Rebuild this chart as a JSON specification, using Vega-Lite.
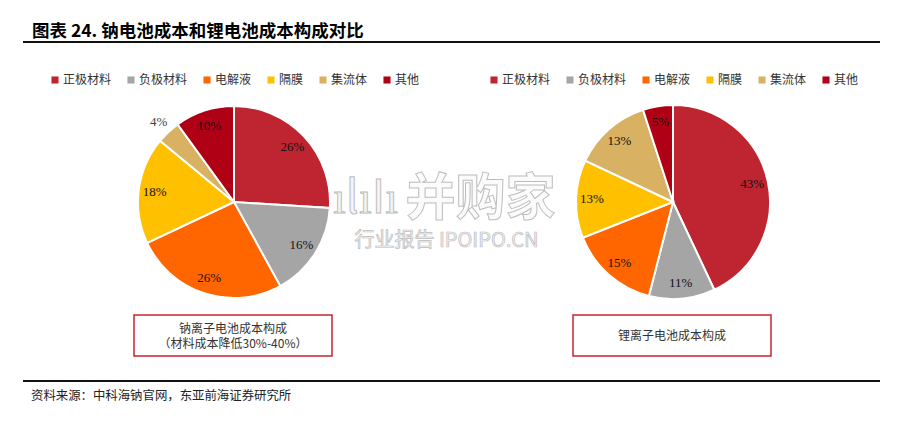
{"$schema":"https://vega.github.io/schema/vega-lite/v6.json","background":"#ffffff","padding":{"left":23,"top":22,"right":0,"bottom":0},"config":{"view":{"stroke":null},"font":"Noto Sans CJK SC"},"datasets":{"na":[{"part":"正极材料","value":0.26,"rank":1},{"part":"负极材料","value":0.16,"rank":2},{"part":"电解液","value":0.26,"rank":3},{"part":"隔膜","value":0.18,"rank":4},{"part":"集流体","value":0.04,"rank":5},{"part":"其他","value":0.10,"rank":6}],"li":[{"part":"正极材料","value":0.43,"rank":1},{"part":"负极材料","value":0.11,"rank":2},{"part":"电解液","value":0.15,"rank":3},{"part":"隔膜","value":0.13,"rank":4},{"part":"集流体","value":0.13,"rank":5},{"part":"其他","value":0.05,"rank":6}],"blank":[{"t":""}]},"spacing":18,"vconcat":[{"spacing":27,"vconcat":[{"width":857,"height":2,"view":{"fill":"#111111","stroke":null},"title":{"text":"图表 24. 钠电池成本和锂电池成本构成对比","anchor":"start","frame":"group","dx":9,"fontSize":17.5,"fontWeight":"bold","color":"#000000","offset":-4},"data":{"name":"blank"},"mark":"text","encoding":{"text":{"field":"t"}}},{"columns":4,"center":true,"bounds":"flush","spacing":{"row":3,"column":0},"concat":[{"width":111,"height":220,"data":{"name":"blank"},"mark":"text","encoding":{"text":{"field":"t"}}},{"width":200,"height":220,"data":{"name":"na"},"encoding":{"theta":{"field":"value","type":"quantitative","stack":true},"order":{"field":"rank","type":"ordinal"}},"layer":[{"mark":{"type":"arc","radius":96,"stroke":"#ffffff","strokeWidth":2},"encoding":{"color":{"field":"part","type":"nominal","scale":{"domain":["正极材料","负极材料","电解液","隔膜","集流体","其他"],"range":["#BE2530","#A5A5A5","#FF6600","#FFC000","#D9B163","#B00016"]},"legend":{"title":null,"orient":"none","legendX":-85,"legendY":-18,"direction":"horizontal","columns":6,"symbolType":"square","symbolSize":50,"symbolStrokeWidth":0,"labelFontSize":12,"labelColor":"#333333","columnPadding":13,"labelOffset":2}}}},{"mark":{"type":"text","radius":80,"font":"Liberation Serif","fontSize":13,"color":"#111111"},"encoding":{"text":{"condition":{"test":"datum.part === '集流体'","value":""},"field":"value","type":"quantitative","format":".0%"}}},{"mark":{"type":"text","radius":110,"font":"Liberation Serif","fontSize":13,"color":"#444444"},"encoding":{"text":{"condition":{"test":"datum.part !== '集流体'","value":""},"field":"value","type":"quantitative","format":".0%"}}}]},{"width":239,"height":220,"layer":[{"data":{"values":[{"t":"行业报告 IPOIPO.CN"}]},"mark":{"type":"text","dx":-7,"dy":39,"fontSize":20,"color":"#f2f2f2","stroke":"#bdbdbd","strokeWidth":0.7},"encoding":{"text":{"field":"t"}}},{"data":{"values":[{"t":"并购家"}]},"mark":{"type":"text","dx":27,"dy":-2,"fontSize":50,"fontWeight":"bold","color":"#fbfbfb","stroke":"#bdbdbd","strokeWidth":1},"encoding":{"text":{"field":"t"}}},{"data":{"values":[{"t":"ılıIı"}]},"mark":{"type":"text","dx":-88,"dy":-3,"fontSize":46,"color":"#f4f4f4","stroke":"#bdbdbd","strokeWidth":1},"encoding":{"text":{"field":"t"}}}]},{"width":200,"height":220,"data":{"name":"li"},"encoding":{"theta":{"field":"value","type":"quantitative","stack":true},"order":{"field":"rank","type":"ordinal"}},"layer":[{"mark":{"type":"arc","radius":97,"stroke":"#ffffff","strokeWidth":2},"encoding":{"color":{"field":"part","type":"nominal","scale":{"domain":["正极材料","负极材料","电解液","隔膜","集流体","其他"],"range":["#BE2530","#A5A5A5","#FF6600","#FFC000","#D9B163","#B00016"]},"legend":{"title":null,"orient":"none","legendX":-85,"legendY":-18,"direction":"horizontal","columns":6,"symbolType":"square","symbolSize":50,"symbolStrokeWidth":0,"labelFontSize":12,"labelColor":"#333333","columnPadding":13,"labelOffset":2}}}},{"mark":{"type":"text","radius":81,"font":"Liberation Serif","fontSize":13,"color":"#111111"},"encoding":{"text":{"field":"value","type":"quantitative","format":".0%"}}}]},{"width":111,"height":41,"data":{"name":"blank"},"mark":"text","encoding":{"text":{"field":"t"}}},{"width":198,"height":41,"view":{"stroke":"#c4242c","strokeWidth":1.5},"data":{"values":[{"t":"钠离子电池成本构成\n（材料成本降低30%-40%）"}]},"mark":{"type":"text","lineBreak":"\n","lineHeight":15,"dy":-7,"fontSize":12,"color":"#333333"},"encoding":{"text":{"field":"t"}}},{"width":239,"height":41,"data":{"name":"blank"},"mark":"text","encoding":{"text":{"field":"t"}}},{"width":198,"height":41,"view":{"stroke":"#c4242c","strokeWidth":1.5},"data":{"values":[{"t":"锂离子电池成本构成"}]},"mark":{"type":"text","fontSize":12,"color":"#333333"},"encoding":{"text":{"field":"t"}}}],"resolve":{"scale":{"color":"independent","theta":"independent"},"legend":{"color":"independent"}}}],"resolve":{"scale":{"color":"independent","theta":"independent"},"legend":{"color":"independent"}}},{"width":857,"height":2,"view":{"fill":"#111111","stroke":null},"title":{"text":"资料来源：中科海钠官网，东亚前海证券研究所","orient":"bottom","anchor":"start","frame":"group","dx":8,"fontSize":12.4,"fontWeight":"normal","color":"#222222","offset":4},"data":{"name":"blank"},"mark":"text","encoding":{"text":{"field":"t"}}}],"resolve":{"scale":{"color":"independent","theta":"independent"},"legend":{"color":"independent"}}}
